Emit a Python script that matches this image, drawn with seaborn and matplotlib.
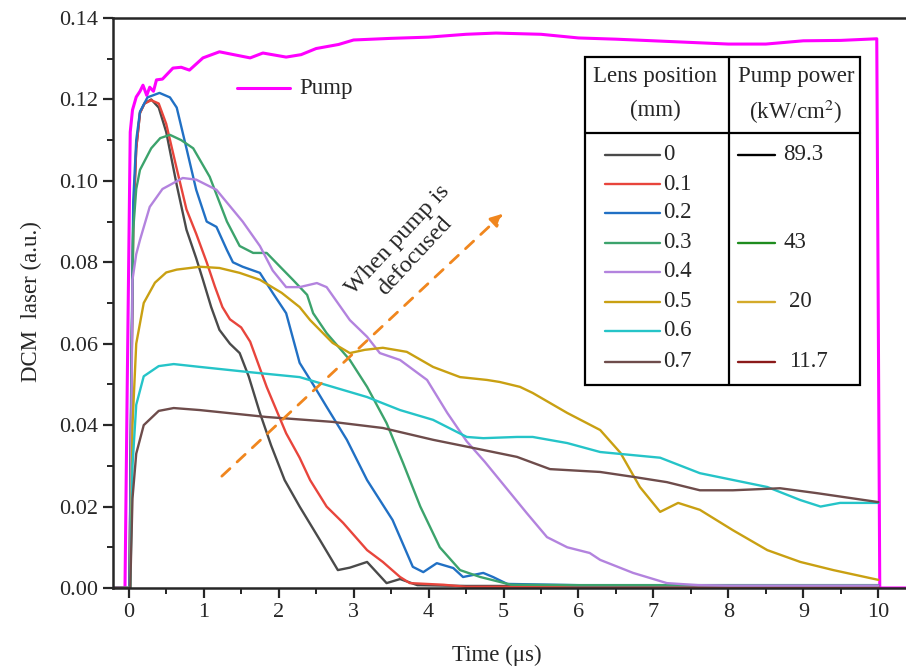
import matplotlib
matplotlib.use("Agg")
import matplotlib.pyplot as plt
import seaborn as sns
from matplotlib.ticker import MultipleLocator, FormatStrFormatter
from matplotlib.patches import Rectangle

# ---- data ----
pump_t = [-0.2, -0.05, -0.02, 0.02, 0.05, 0.1, 0.15, 0.19, 0.24, 0.28, 0.33, 0.37, 0.45, 0.59, 0.7, 0.81,
          0.99, 1.21, 1.4, 1.62, 1.79, 2.1, 2.3, 2.5, 2.8, 3.0, 3.5, 4.0, 4.5, 4.9, 5.5, 6.0, 6.5, 7.0,
          7.5, 8.0, 8.5, 9.0, 9.5, 9.98, 10.02, 10.4]
pump_v = [0, 0, 0.05, 0.112, 0.1174, 0.1206, 0.122, 0.1235, 0.121, 0.123, 0.122, 0.1248, 0.125, 0.1277,
          0.1279, 0.1272, 0.1302, 0.1317, 0.131, 0.1302, 0.1314, 0.1304, 0.131, 0.1325, 0.1335, 0.1346,
          0.135, 0.1353, 0.136, 0.1363, 0.136, 0.1351, 0.1348, 0.1344, 0.134, 0.1336, 0.1336, 0.1344,
          0.1345, 0.1349, 0.0, 0.0]

t_00 = [-0.2, 0.01, 0.03, 0.06, 0.1, 0.15, 0.21, 0.3, 0.4, 0.5, 0.64, 0.77, 0.9, 0.99, 1.1, 1.21, 1.35,
        1.48, 1.6, 1.75, 1.9, 2.08, 2.28, 2.55, 2.79, 2.95, 3.18, 3.3, 3.44, 3.62, 3.85, 4.5, 6.0, 8.0,
        10.0]
v_00 = [0, 0, 0.04, 0.09, 0.108, 0.1167, 0.119, 0.120, 0.118, 0.112, 0.099, 0.088, 0.081, 0.0757,
        0.069, 0.0634, 0.060, 0.0577, 0.052, 0.043, 0.035, 0.0265, 0.020, 0.0118, 0.0044, 0.005,
        0.0064, 0.004, 0.0012, 0.0022, 0.0007, 0.0005, 0.0005, 0.0005, 0.0005]

t_01 = [-0.2, 0.01, 0.03, 0.06, 0.1, 0.15, 0.21, 0.3, 0.4, 0.5, 0.64, 0.77, 0.9, 1.04, 1.15, 1.25, 1.35,
        1.5, 1.62, 1.84, 2.1, 2.28, 2.42, 2.64, 2.86, 3.18, 3.39, 3.62, 3.75, 4.2, 4.5, 6.0, 8.0, 10.0]
v_01 = [0, 0, 0.04, 0.09, 0.108, 0.1167, 0.119, 0.1198, 0.119, 0.114, 0.103, 0.093, 0.087, 0.080, 0.074,
        0.069, 0.066, 0.064, 0.0605, 0.0494, 0.038, 0.032, 0.0265, 0.020, 0.016, 0.0093, 0.0064, 0.0027,
        0.0012, 0.0008, 0.0003, 0.0003, 0.0003, 0.0003]

t_02 = [-0.2, 0.01, 0.03, 0.06, 0.1, 0.15, 0.25, 0.41, 0.55, 0.64, 0.77, 0.9, 1.04, 1.17, 1.31, 1.39, 1.52,
        1.75, 1.92, 2.1, 2.28, 2.46, 2.64, 2.91, 3.18, 3.52, 3.79, 3.93, 4.11, 4.33, 4.46, 4.73, 4.86,
        5.05, 6.0, 8.0, 10.0]
v_02 = [0, 0, 0.045, 0.095, 0.110, 0.117, 0.1205, 0.1216, 0.1205, 0.118, 0.108, 0.0978, 0.090, 0.0887,
        0.083, 0.080, 0.0789, 0.0774, 0.0725, 0.0675, 0.0553, 0.050, 0.0445, 0.0364, 0.0265, 0.0167,
        0.0052, 0.0039, 0.0061, 0.0049, 0.0027, 0.0037, 0.0027, 0.001, 0.0007, 0.0007, 0.0007]

t_03 = [-0.2, 0.02, 0.04, 0.06, 0.1, 0.15, 0.3, 0.42, 0.55, 0.7, 0.86, 1.08, 1.31, 1.48, 1.66, 1.84,
        2.02, 2.19, 2.38, 2.46, 2.64, 2.95, 3.18, 3.44, 3.66, 3.89, 4.15, 4.42, 4.69, 4.95, 5.1, 6.0,
        8.0, 10.0]
v_03 = [0, 0, 0.06, 0.088, 0.098, 0.1027, 0.108, 0.1105, 0.1113, 0.110, 0.108, 0.101, 0.090, 0.084,
        0.0823, 0.0823, 0.0789, 0.0757, 0.072, 0.0675, 0.0626, 0.056, 0.0494, 0.0405, 0.0307, 0.020,
        0.010, 0.0044, 0.0027, 0.0015, 0.0008, 0.0007, 0.0007, 0.0007]

t_04 = [-0.2, 0.02, 0.05, 0.1, 0.15, 0.28, 0.45, 0.72, 0.9, 1.17, 1.52, 1.75, 1.92, 2.1, 2.28, 2.51,
        2.64, 2.95, 3.18, 3.35, 3.62, 3.98, 4.25, 4.51, 4.75, 4.95, 5.31, 5.58, 5.85, 6.15, 6.29, 6.73,
        7.18, 7.6, 8.0, 10.0]
v_04 = [0, 0, 0.0757, 0.082, 0.0855, 0.0936, 0.098, 0.1007, 0.1003, 0.0978, 0.090, 0.084, 0.078,
        0.0739, 0.0739, 0.0749, 0.0739, 0.0658, 0.0617, 0.0577, 0.056, 0.0511, 0.043, 0.036, 0.031,
        0.0265, 0.0184, 0.0125, 0.010, 0.0086, 0.0069, 0.0037, 0.0012, 0.0007, 0.0006, 0.0006]

t_05 = [-0.2, 0.02, 0.05, 0.1, 0.2, 0.35, 0.5, 0.64, 0.95, 1.21, 1.48, 1.75, 2.04, 2.28, 2.42, 2.72,
        2.95, 3.15, 3.39, 3.71, 4.06, 4.42, 4.78, 4.95, 5.22, 5.39, 5.85, 6.29, 6.56, 6.82, 7.09, 7.33,
        7.62, 8.06, 8.52, 8.96, 9.4, 10.0]
v_05 = [0, 0, 0.04, 0.060, 0.070, 0.075, 0.0775, 0.0782, 0.0789, 0.0786, 0.0774, 0.0757, 0.0725,
        0.069, 0.0658, 0.0602, 0.0577, 0.0585, 0.059, 0.058, 0.0543, 0.0518, 0.0511, 0.0506, 0.0494,
        0.0479, 0.043, 0.0388, 0.0332, 0.0248, 0.0187, 0.0209, 0.0192, 0.0142, 0.0093, 0.0064, 0.0044,
        0.002]

t_06 = [-0.2, 0.02, 0.05, 0.1, 0.2, 0.4, 0.6, 0.95, 1.62, 2.28, 2.72, 3.18, 3.62, 4.06, 4.51, 4.73, 5.18,
        5.39, 5.85, 6.29, 7.09, 7.62, 8.52, 8.96, 9.23, 9.49, 10.0]
v_06 = [0, 0, 0.03, 0.045, 0.052, 0.0545, 0.055, 0.0543, 0.053, 0.0518, 0.0494, 0.0469, 0.0437, 0.0413,
        0.0371, 0.0368, 0.0371, 0.0371, 0.0356, 0.0334, 0.032, 0.0282, 0.0248, 0.0216, 0.020, 0.0209,
        0.0209]

t_07 = [-0.2, 0.02, 0.05, 0.1, 0.2, 0.4, 0.6, 0.95, 1.84, 2.72, 3.39, 4.06, 4.73, 5.18, 5.62, 6.29, 6.73,
        7.18, 7.62, 8.06, 8.69, 9.18, 10.0]
v_07 = [0, 0, 0.022, 0.033, 0.040, 0.0435, 0.0442, 0.0437, 0.042, 0.0408, 0.0393, 0.0364, 0.0339, 0.0322,
        0.0292, 0.0285, 0.0273, 0.026, 0.024, 0.024, 0.0245, 0.0233, 0.0211]

lens_labels = ["0", "0.1", "0.2", "0.3", "0.4", "0.5", "0.6", "0.7"]
lens_colors = ["#4a4a4a", "#e8453c", "#2170c4", "#3ca36c", "#b383de", "#c9a012", "#25c4c8", "#6e4c4b"]
power_labels = ["89.3", "43", "20", "11.7"]
power_rows = [0, 3, 5, 7]
power_colors = ["#000000", "#1e8c1e", "#d4aa2a", "#8b1a1a"]

series = [(t_00, v_00), (t_01, v_01), (t_02, v_02), (t_03, v_03),
          (t_04, v_04), (t_05, v_05), (t_06, v_06), (t_07, v_07)]

sns.set_style("ticks")
plt.rcParams["font.family"] = ["Liberation Serif", "DejaVu Serif"]
plt.rcParams["mathtext.fontset"] = "stix"

fig = plt.figure(figsize=(9.06, 6.72), dpi=100)
ax = fig.add_axes([113 / 906, 84 / 672, 793 / 906, 570 / 672])

sns.lineplot(x=pump_t, y=pump_v, ax=ax, color="#ff00ff", linewidth=2.2, sort=False)
for (t, v), c in zip(series, lens_colors):
    sns.lineplot(x=t, y=v, ax=ax, color=c, linewidth=1.7, sort=False)

ax.set_xlim(-0.21, 10.37)
ax.set_ylim(0, 0.14)
ax.xaxis.set_major_locator(MultipleLocator(1))
ax.xaxis.set_minor_locator(MultipleLocator(0.5))
ax.yaxis.set_major_locator(MultipleLocator(0.02))
ax.yaxis.set_minor_locator(MultipleLocator(0.01))
ax.yaxis.set_major_formatter(FormatStrFormatter("%.2f"))
ax.tick_params(which="major", direction="out", length=7, width=1.6, labelsize=16, pad=4)
ax.tick_params(which="minor", direction="out", length=4, width=1.4)
for side in ["left", "bottom", "top"]:
    ax.spines[side].set_linewidth(1.8)
ax.spines["right"].set_visible(False)
ax.set_xlabel("Time (μs)", fontsize=16.5)
ax.set_ylabel("DCM  laser (a.u.)", fontsize=16.5)
ax.xaxis.set_label_coords((497 - 113) / 793, -0.1)
ax.yaxis.set_label_coords(-0.09, 0.502)

# pump legend entry
ax.plot([1.44, 2.15], [0.1228, 0.1228], color="#ff00ff", linewidth=2.2)
ax.text(2.27, 0.1228, "Pump", fontsize=16.5, va="center", ha="left")

# dashed arrow and annotation
ax.annotate("", xy=(5.02, 0.0924), xytext=(1.215, 0.027),
            arrowprops=dict(arrowstyle="-|>", color="#f0861e", lw=2, linestyle=(0, (4, 3.5)),
                            mutation_scale=18))
ax.text(3.7, 0.0835, "When pump is\ndefocused", fontsize=17.5, rotation=47, ha="center", va="center",
        linespacing=1.15, rotation_mode="anchor")

# table-style legend drawn in axes fraction
tr = ax.transAxes
fs = 16.5
ax.add_patch(Rectangle((0.595, 0.356), 0.347, 0.576, transform=tr, fill=False, lw=1.6, ec="black"))
ax.plot([0.777, 0.777], [0.356, 0.932], transform=tr, color="black", lw=1.6)
ax.plot([0.595, 0.942], [0.798, 0.798], transform=tr, color="black", lw=1.6)
ax.text(0.684, 0.897, "Lens position", transform=tr, fontsize=fs, ha="center", va="center")
ax.text(0.684, 0.838, "(mm)", transform=tr, fontsize=fs, ha="center", va="center")
ax.text(0.861, 0.897, "Pump power", transform=tr, fontsize=fs, ha="center", va="center")
ax.text(0.861, 0.835, "(kW/cm$^2$)", transform=tr, fontsize=fs, ha="center", va="center")

row_y = [0.760, 0.708, 0.658, 0.606, 0.555, 0.502, 0.451, 0.397]
for lab, c, yy in zip(lens_labels, lens_colors, row_y):
    ax.plot([0.620, 0.690], [yy, yy], transform=tr, color=c, lw=1.7)
    ax.text(0.694, yy, lab, transform=tr, fontsize=fs, ha="left", va="center")
for lab, r, c in zip(power_labels, power_rows, power_colors):
    yy = row_y[r]
    ax.plot([0.788, 0.835], [yy, yy], transform=tr, color=c, lw=1.7)
    ax.text(0.845 if r in (0, 3) else 0.852, yy, lab, transform=tr, fontsize=fs,
            ha="left", va="center")

fig.savefig("out.png", dpi=100)
